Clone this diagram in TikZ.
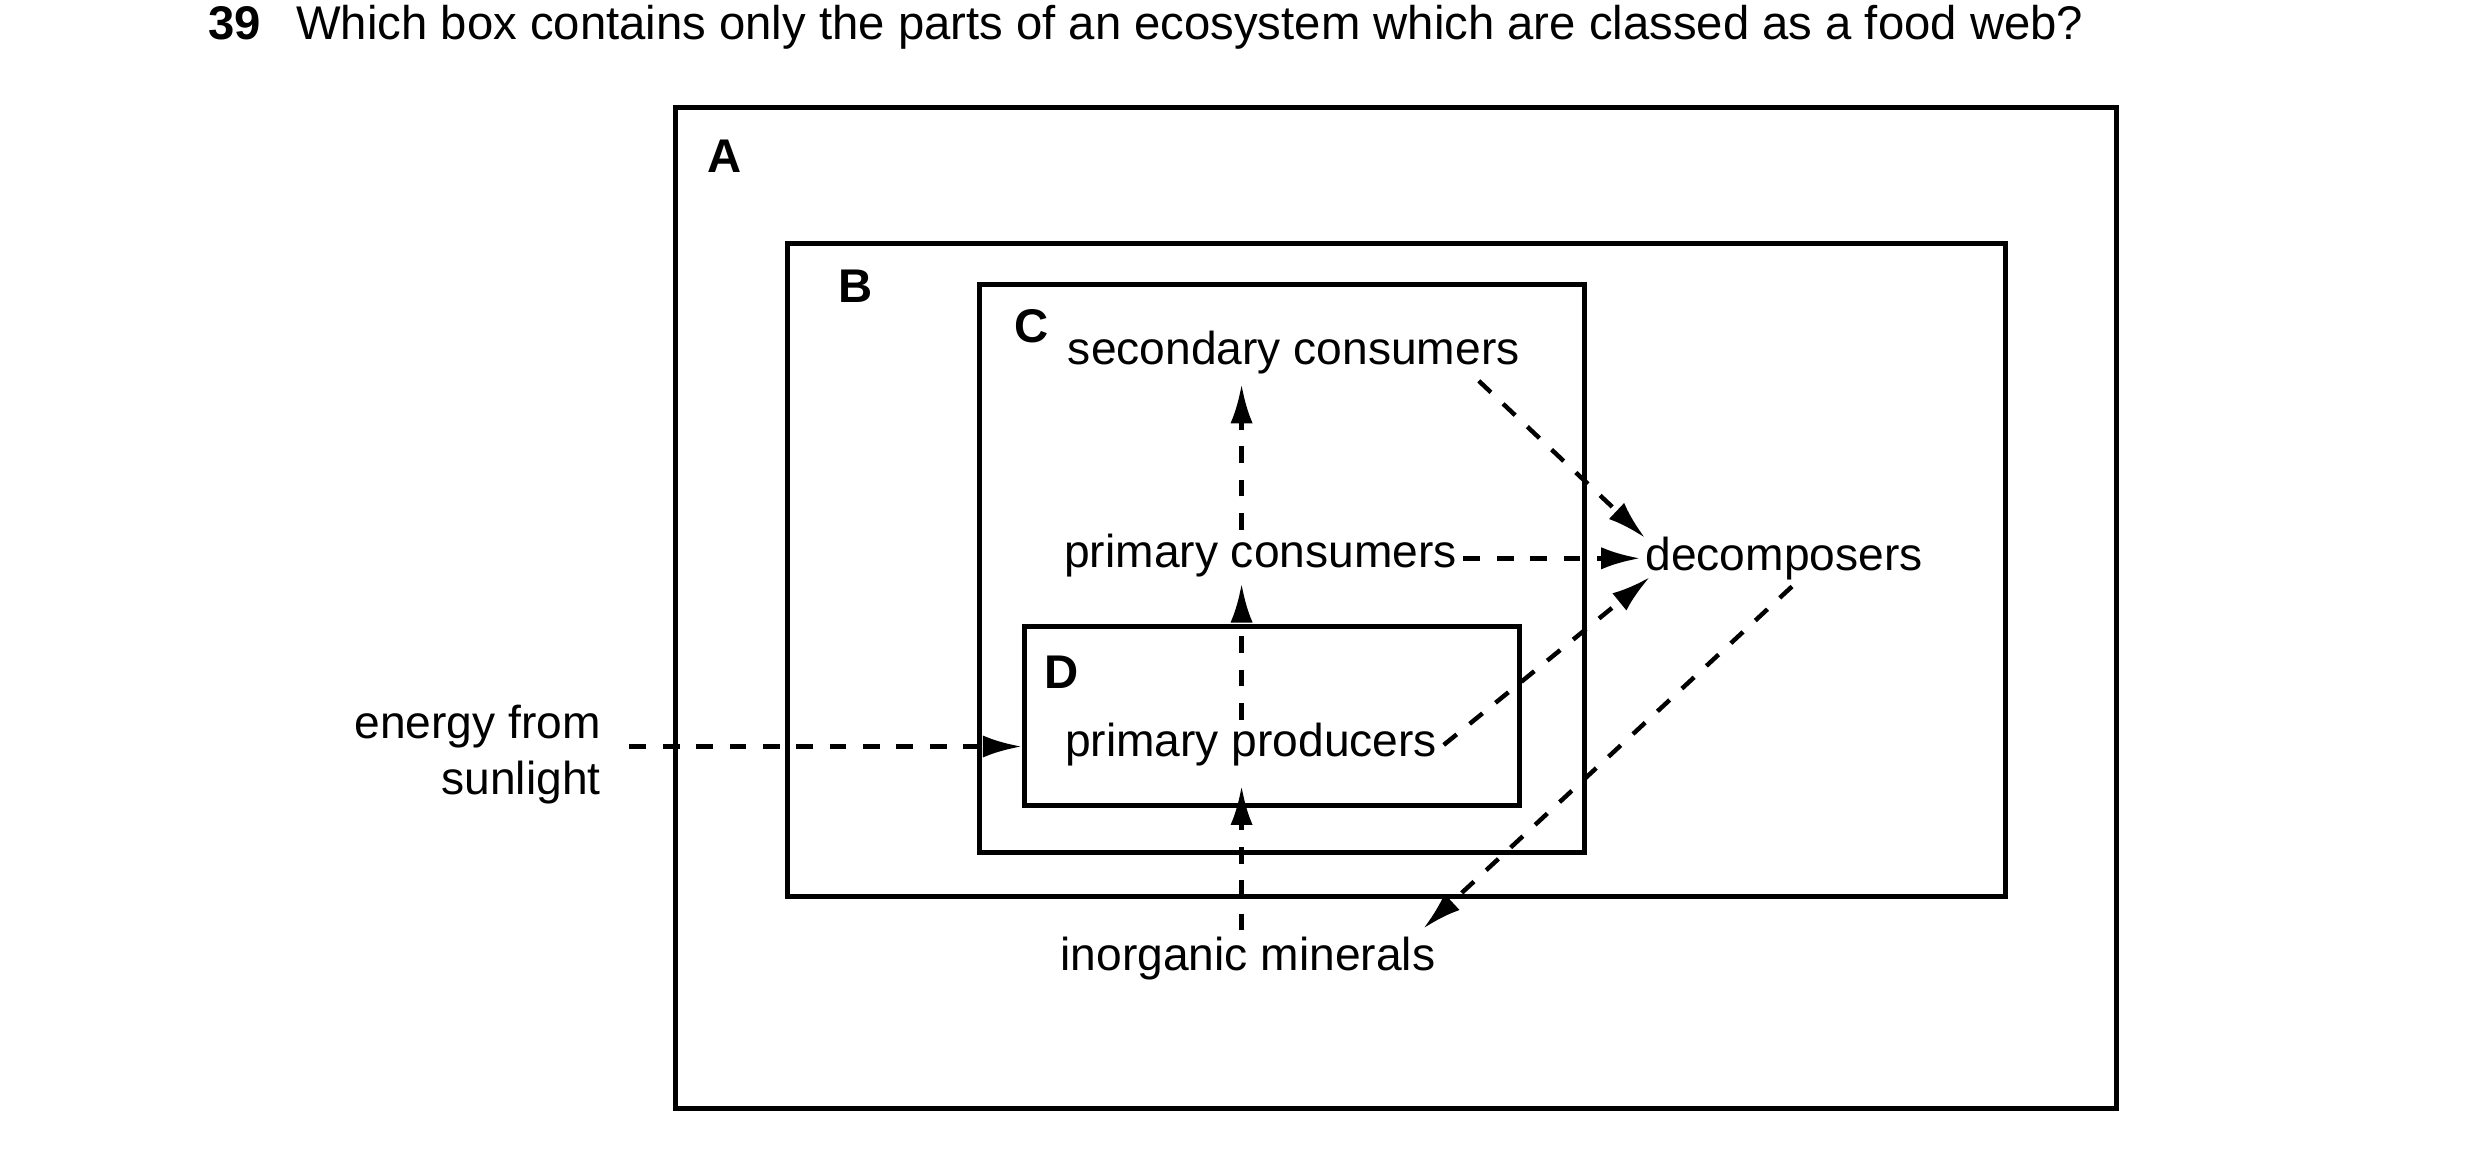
\documentclass[tikz,border=0pt]{standalone}
\usepackage{fontspec}
\setmainfont{Liberation Sans}
\usetikzlibrary{arrows.meta,positioning}
\tikzset{box/.style={draw,line width=0.9pt},
    boxlabel/.style={font=\bfseries\fontsize{8.5}{10}\selectfont},
    term/.style={font=\fontsize{8.3}{10}\selectfont,inner sep=1pt},
    flow/.style={dashed,line width=0.8pt,-{Latex[length=7pt,width=4pt]}}
}
\begin{document}
\begin{tikzpicture}[x=0.01cm,y=-0.01cm]
\useasboundingbox (0,0) rectangle (1568,728);

\node [anchor=west,font=\fontsize{8.5}{10}\selectfont,inner sep=0pt] (question) at (131,17) {\textbf{39}\hspace{0.75em}Which box contains only the parts of an ecosystem which are classed as a food web?};

% boxes
\draw [box] (427,68) rectangle (1338,701);
\draw [box] (498,154) rectangle (1268,567);
\draw [box] (619,180) rectangle (1002,539);
\draw [box] (648,396) rectangle (961,509);
\node [boxlabel] (labA) at (458,99) {A};
\node [boxlabel] (labB) at (541,181) {B};
\node [boxlabel] (labC) at (652,206) {C};
\node [boxlabel] (labD) at (671,425) {D};

% terms
\node [term] (sec) at (818,223) {secondary consumers};
\node [term] (pcons) at (797,351) {primary consumers};
\node [term] (decomp) at (1128,353) {decomposers};
\node [term] (prod) at (791,471) {primary producers};
\node [term] (minerals) at (789,606) {inorganic minerals};
\node [term,align=right,anchor=east] (sun) at (384,477) {energy from\\sunlight};

\coordinate (secin) at (785,243);
\coordinate (pconsin) at (785,369);
\coordinate (prodin) at (785,497);
\coordinate (dtop) at (1040,340);
\coordinate (dleft) at (1037,353);
\coordinate (dlow) at (1043,365);
\coordinate (mineralsin) at (900,587);
\coordinate (Dleft) at (646,472);

\draw [flow] (785,335) -- (secin);
\draw [flow] (785,455) -- (pconsin);
\draw [flow] (minerals.north -| prodin) -- (prodin);
\draw [flow] (sec.south east) ++(-30,0) -- (dtop);
\draw [flow] (pcons.east |- dleft) -- (dleft);
\draw [flow] (prod.east) -- (dlow);
\draw [flow] (decomp.south) ++(5,0) -- (mineralsin);
\draw [flow] (sun.east |- Dleft) ++(14,0) -- (Dleft);
\end{tikzpicture}
\end{document}
